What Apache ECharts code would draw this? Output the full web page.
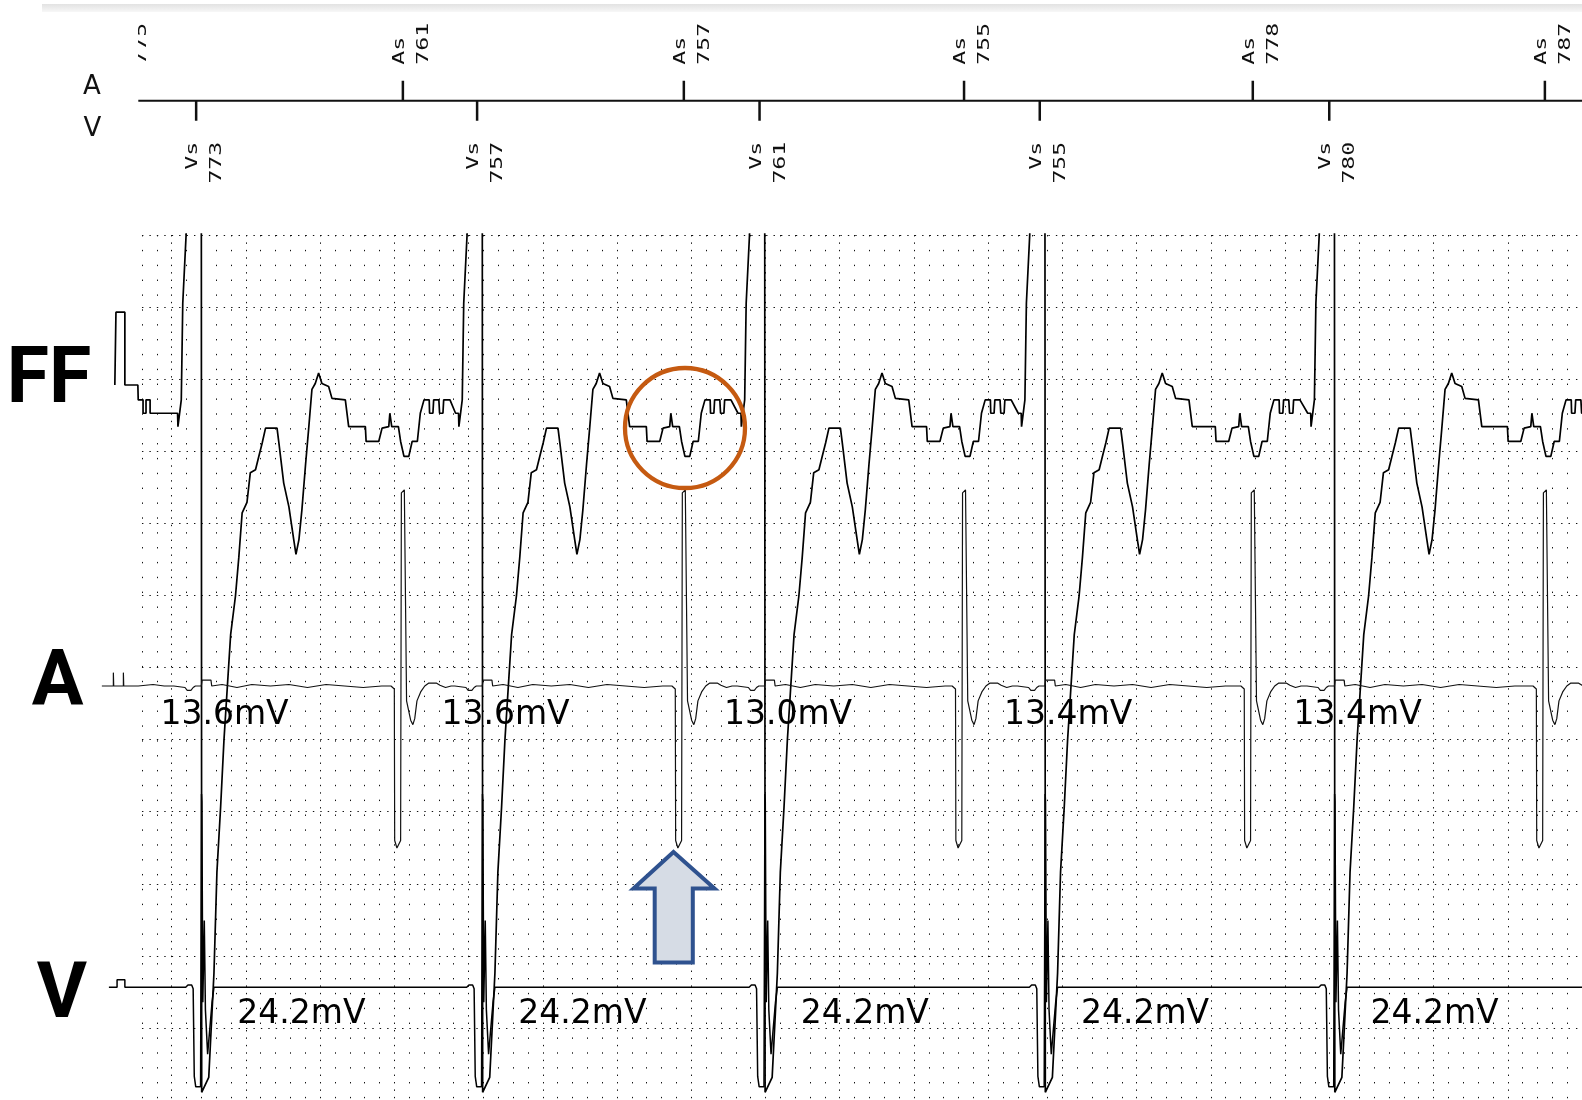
<!DOCTYPE html>
<html><head><meta charset="utf-8">
<script src="https://cdn.jsdelivr.net/npm/echarts@6/dist/echarts.min.js"></script>
<style>html,body{margin:0;padding:0;background:#fff}#chart{width:1582px;height:1100px}</style>
</head><body><div id="chart"></div>
<script>
// ---------------- data (time in ms, amplitude in mm of the recording grid) ----------------
const vsTimes = [266, 1023, 1784, 2539, 3319];
const vsIntervals = [773, 757, 761, 755, 780];
const asTimes = [62, 823, 1580, 2335, 3113, 3900];
const asIntervals = [775, 761, 757, 755, 778, 787];
const aAmplitudes = [13.6, 13.6, 13.0, 13.4, 13.4];
const vAmplitudes = [24.2, 24.2, 24.2, 24.2, 24.2];
const channelNames = ['FF', 'A', 'V'];
const markerRows = ['A', 'V'];

// FF channel: start (calibration + first samples), beat part tied to Vs, beat part tied to As
const ffLead = [[47,0],[50,0],[50,4.9],[74,4.9],[74,0],[109,0],[110,-1.0],[123,-1.0],[123,-1.9],[131,-1.9],[131,-1.0],[142,-1.0],[142,-1.9],[200,-1.9]];
const ffBeatV = [[-58,-1.9],[-50,-1.9],[-49,-2.8],[-45,-2.8],[-40,-1.0],[-36,5.5],[-27,10.1],[-22,14],[14,14],[15,-47.6],[19,-47.6],[34,-46.6],[48,-39.6],[56,-32.8],[66,-28.4],[75,-23.9],[93,-16.8],[106,-14.2],[115,-11.6],[124,-8.6],[137,-7.9],[146,-5.9],[160,-5.7],[169,-4.8],[178,-3.9],[187,-2.9],[218,-2.9],[223,-3.9],[236,-6.6],[250,-8.2],[263,-10.4],[269,-11.4],[277,-10.4],[285,-8.4],[295,-5.3],[303,-3.0],[312,-0.3],[321,0.1],[330,0.8],[339,0.1],[357,-0.1],[366,-0.9],[402,-1.0],[411,-2.8],[438,-2.8]];
const ffBeatA = [[-101,-2.8],[-99,-3.8],[-65,-3.8],[-56,-2.9],[-38,-2.8],[-35,-1.9],[-31,-1.9],[-30,-2.8],[-12,-2.8],[-6,-3.8],[3,-4.8],[16,-4.8],[25,-3.8],[39,-3.8],[47,-1.9],[57,-1.0],[71,-1.0],[72,-1.9],[81,-1.9],[83,-1.0],[97,-1.0],[99,-1.9],[108,-1.9],[110,-1.0],[127,-1.0]];

// A channel
const aLead = [[12,0],[43,0],[43,0.9],[44,0],[70,0],[70,0.9],[71,0],[110,0],[150,0.1],[180,0]];
const aBeatV = [[-60,0],[-30,-0.1],[-24,-0.3],[-14,-0.3],[-8,-0.1],[-2,0],[14,0],[16,0.4],[40,0.4],[42,0],[70,0.1],[110,-0.1],[150,0.1],[200,0],[250,0.1],[300,-0.1],[350,0.1],[400,0],[450,-0.1],[500,0]];
const aBeatA = [[-32,0],[-23,-0.2],[-22,-10.4],[-16,-10.9],[-6,-10.4],[-4,13.0],[4,13.2],[10,-1.0],[21,-2.3],[27,-2.6],[32,-2.2],[38,-1.0],[48,-0.4],[59,0],[70,0.2],[90,0.2],[100,0.05],[115,-0.1],[130,0]];

// V channel
const vLead = [[31,0],[53,0],[53,0.5],[74,0.5],[74,0],[150,0]];
const vBeatV = [[-60,0],[-28,0],[-22,0.15],[-12,0.15],[-8,-0.1],[-5,-6.0],[-1,-6.7],[12,-6.7],[14.5,13.0],[15.5,12.5],[18,-1.0],[22,4.5],[25,-1.5],[31,-4.5],[36,-4.5],[43,-1.0],[48,0]];

// ---------------- layout ----------------
const GRID_LEFT = 97.4, GRID_W = 1485.6, T_MAX = 4000;
const PXMS = GRID_W / T_MAX;
const MM = 14.86;
const TRACE_TOP = 234, TRACE_BOTTOM = 1097;
const baselines = [385, 686, 987.3];
const MARK_LEFT = 138.3;
const markMin = (MARK_LEFT - GRID_LEFT) / PXMS;

function place(template, times, minT) {
  const out = [];
  times.forEach(t0 => { if (t0 < minT) return; template.forEach(p => out.push([t0 + p[0], p[1]])); });
  return out;
}
const byT = (a, b) => a[0] - b[0];
const ffData = ffLead.concat(place(ffBeatV, vsTimes, 150), place(ffBeatA, asTimes, 150)).sort(byT);
const aData = aLead.concat(place(aBeatV, vsTimes, 150), place(aBeatA, asTimes, 150)).sort(byT);
const vData = vLead.concat(place(vBeatV, vsTimes, 150)).sort(byT);
vData.push([T_MAX, 0]);

const hidden = {show: false};
function traceY(b) {
  return {gridIndex: 1, type: 'value', show: false, min: -(TRACE_BOTTOM - b) / MM, max: (b - TRACE_TOP) / MM};
}
const dotColor = '#111';

const chart = echarts.init(document.getElementById('chart'), null, {renderer: 'canvas', width: 1582, height: 1100});
const bigLabel = (i, x, y) => ({type: 'text', z: 10, x: x, y: y,
  style: {text: channelNames[i], fontSize: 77, fontWeight: 'bold', fontFamily: 'Roboto', fill: '#000', align: 'center', verticalAlign: 'middle'}});
const option = {
  backgroundColor: '#fff',
  animation: false,
  grid: [
    {left: GRID_LEFT, top: 235, width: GRID_W, height: 891.6},
    {left: GRID_LEFT, top: TRACE_TOP, width: GRID_W, height: TRACE_BOTTOM - TRACE_TOP},
    {left: MARK_LEFT, top: 0, width: 1582 + 1 - MARK_LEFT, height: 201.4}
  ],
  xAxis: [
    {gridIndex: 0, type: 'value', min: 0, max: T_MAX, interval: 200,
     axisLine: hidden, axisTick: hidden, axisLabel: hidden,
     splitLine: {show: true, lineStyle: {color: dotColor, width: 1, type: [1.4, 6.03]}},
     minorTick: {show: false, splitNumber: 5},
     minorSplitLine: {show: true, lineStyle: {color: dotColor, width: 1, type: [1.4, 13.46]}}},
    {gridIndex: 1, type: 'value', min: 0, max: T_MAX, show: false},
    {gridIndex: 2, type: 'value', min: markMin, max: T_MAX, show: false}
  ],
  yAxis: [
    {gridIndex: 0, type: 'value', min: 0, max: 2400, interval: 200,
     axisLine: hidden, axisTick: hidden, axisLabel: hidden,
     splitLine: {show: true, lineStyle: {color: dotColor, width: 1, type: [1.4, 6.03]}}},
    traceY(baselines[0]), traceY(baselines[1]), traceY(baselines[2]),
    {gridIndex: 2, type: 'value', min: -1, max: 1, show: false}
  ],
  series: [
    {type: 'line', name: 'FF', xAxisIndex: 1, yAxisIndex: 1, data: ffData, symbol: 'none', clip: true, silent: true, z: 3,
     lineStyle: {color: '#000', width: 1.7}},
    {type: 'line', name: 'A', xAxisIndex: 1, yAxisIndex: 2, data: aData, symbol: 'none', clip: true, silent: true, z: 3,
     lineStyle: {color: '#111', width: 1.2}},
    {type: 'line', name: 'V', xAxisIndex: 1, yAxisIndex: 3, data: vData, symbol: 'none', clip: true, silent: true, z: 3,
     lineStyle: {color: '#000', width: 1.5}},
    {type: 'line', name: 'markerAxis', xAxisIndex: 2, yAxisIndex: 4, data: [[markMin, 0], [T_MAX, 0]], symbol: 'none', silent: true,
     lineStyle: {color: '#111', width: 2}},
    {type: 'custom', name: 'markers', xAxisIndex: 2, yAxisIndex: 4, clip: true, silent: true,
     data: asTimes.map((t, i) => [t, 1, asIntervals[i]]).concat(vsTimes.map((t, i) => [t, -1, vsIntervals[i]])),
     renderItem: function (params, api) {
       const p = api.coord([api.value(0), 0]);
       const side = api.value(1);
       const label = (side > 0 ? markerRows[0] : markerRows[1]) + 's\n' + api.value(2);
       return {type: 'group', children: [
         {type: 'line', shape: {x1: p[0], y1: p[1], x2: p[0], y2: p[1] - side * 20}, style: {stroke: '#111', lineWidth: 2.5}},
         {type: 'text', x: p[0] + 9, y: side > 0 ? p[1] - 36 : p[1] + 41, rotation: Math.PI / 2, scaleX: 1.45,
          style: {text: label, fontSize: 16, fontFamily: 'DejaVu Sans Mono', fill: '#111',
                  align: side > 0 ? 'left' : 'right', verticalAlign: 'middle', lineHeight: 24}}
       ]};
     }},
    {type: 'custom', name: 'aAmp', xAxisIndex: 1, yAxisIndex: 2, silent: true, z: 4,
     data: vsTimes.map((t, i) => [t, aAmplitudes[i]]),
     renderItem: function (params, api) {
       const p = api.coord([api.value(0) - 96, -1.95]);
       return {type: 'text', x: p[0], y: p[1], style: {text: api.value(1).toFixed(1) + 'mV', fontSize: 33, fontFamily: 'DejaVu Sans', fill: '#000', align: 'left', verticalAlign: 'middle'}};
     }},
    {type: 'custom', name: 'vAmp', xAxisIndex: 1, yAxisIndex: 3, silent: true, z: 4,
     data: vsTimes.map((t, i) => [t, vAmplitudes[i]]),
     renderItem: function (params, api) {
       const p = api.coord([api.value(0) + 111, -1.8]);
       return {type: 'text', x: p[0], y: p[1], style: {text: api.value(1).toFixed(1) + 'mV', fontSize: 33, fontFamily: 'DejaVu Sans', fill: '#000', align: 'left', verticalAlign: 'middle'}};
     }}
  ],
  graphic: {elements: [
    {type: 'rect', z: 1, silent: true, shape: {x: 0, y: 228, width: 139, height: 872}, style: {fill: '#fff'}},
    {type: 'rect', z: 1, silent: true, shape: {x: 42, y: 4, width: 1540, height: 8},
     style: {fill: new echarts.graphic.LinearGradient(0, 0, 0, 1, [{offset: 0, color: '#e2e2e2'}, {offset: 1, color: '#f7f7f7'}])}},
    bigLabel(0, 49, 383),
    bigLabel(1, 57.5, 686),
    bigLabel(2, 62, 997.5),
    {type: 'text', z: 10, x: 92, y: 87, style: {text: markerRows[0], fontSize: 26, fontFamily: 'DejaVu Sans', fill: '#111', align: 'center', verticalAlign: 'middle'}},
    {type: 'text', z: 10, x: 92.5, y: 129.5, style: {text: markerRows[1], fontSize: 26, fontFamily: 'DejaVu Sans', fill: '#111', align: 'center', verticalAlign: 'middle'}},
    {type: 'circle', z: 10, silent: true, shape: {cx: 685, cy: 428, r: 60}, style: {fill: 'none', stroke: '#C55A11', lineWidth: 4.3}},
    {type: 'polygon', z: 10, silent: true,
     shape: {points: [[673.5, 852], [714.5, 888.5], [692.8, 888.5], [692.8, 962.5], [654.7, 962.5], [654.7, 888.5], [633.5, 888.5]]},
     style: {fill: '#D6DCE5', stroke: '#2F528F', lineWidth: 4, lineJoin: 'miter'}}
  ]}
};
chart.setOption(option);
</script>
</body></html>
